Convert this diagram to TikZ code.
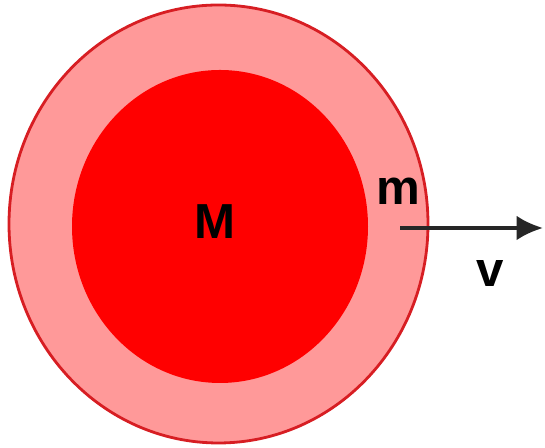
\documentclass[tikz,border=0pt]{standalone}
\usepackage{fontspec}
\setmainfont{Liberation Sans}
\usetikzlibrary{arrows.meta, positioning}
\definecolor{shellred}{RGB}{255,153,153}
\definecolor{rimred}{RGB}{215,30,35}
\definecolor{corered}{RGB}{255,0,0}

\begin{document}
\begin{tikzpicture}[x=0.02cm, y=0.02cm,
            lbl/.style={font=\fontsize{28}{30}\selectfont\bfseries, text=black, inner sep=0pt},
            arr/.style={-{Latex[length=15pt, width=14pt]}, line width=2pt, black!85}
        ]
            \useasboundingbox (0,0) rectangle (545,448);
            % outer shell and inner core
            \draw[fill=shellred, draw=rimred, line width=1.6pt] (218.5,224) ellipse [x radius=209.5, y radius=219];
            \fill[corered] (220,221.5) ellipse [x radius=148, y radius=156.5];

            \node[lbl] (M) at (215,226) {M};
            \node[lbl] (m) at (398,257) {m};
            \node[lbl] (v) at (490,174) {v};

            \coordinate (vstart) at (400,220);
            \coordinate (vend) at (543,220);
            \draw[arr] (vstart) -- (vend);
        \end{tikzpicture}
\end{document}
